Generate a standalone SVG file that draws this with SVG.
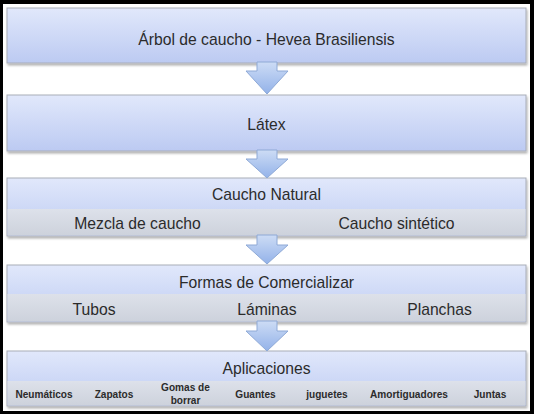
<svg xmlns="http://www.w3.org/2000/svg" width="534" height="414" viewBox="0 0 534 414">
<style>
.box{fill:url(#gBox);stroke:#a9adb8;stroke-width:1}
.low{fill:url(#gLow)}
.t{font-family:"Liberation Sans",Arial,sans-serif;fill:#2b2b2b;text-anchor:middle}
.big{font-size:15.7px}
.sm{font-size:10.1px;font-weight:bold}
.arr{fill:url(#gArr);stroke:#8ea9d6;stroke-width:1}
</style>
<defs>
<linearGradient id="gBox" x1="0" y1="0" x2="0" y2="1">
<stop offset="0" stop-color="#e1e8fb"/>
<stop offset="1" stop-color="#bccaf2"/>
</linearGradient>
<linearGradient id="gLow" x1="0" y1="0" x2="0" y2="1">
<stop offset="0" stop-color="#dde1ea"/>
<stop offset="1" stop-color="#cdd2dc"/>
</linearGradient>
<linearGradient id="gArr" x1="0" y1="0" x2="0" y2="1">
<stop offset="0" stop-color="#cddcf5"/>
<stop offset="1" stop-color="#93b2e9"/>
</linearGradient>
<filter id="sh" x="-5%" y="-20%" width="110%" height="150%">
<feDropShadow dx="1" dy="2" stdDeviation="1.3" flood-color="#000" flood-opacity="0.3"/>
</filter>
</defs>
<rect x="0" y="0" width="534" height="414" fill="#000"/>
<rect x="3" y="4" width="527" height="407" fill="#fff"/>

<g id="n1">
<rect class="box" x="7" y="8" width="519" height="55" filter="url(#sh)"/>
<text class="t big" x="266.5" y="44.5">Árbol de caucho - Hevea Brasiliensis</text>
</g>
<g id="n2">
<rect class="box" x="7" y="95" width="519" height="56" filter="url(#sh)"/>
<text class="t big" x="266.5" y="129.5">Látex</text>
</g>
<g id="n3">
<rect class="box" x="7" y="178" width="519" height="58" filter="url(#sh)"/>
<rect class="low" x="7.5" y="209" width="518" height="26.5"/>
<text class="t big" x="266.5" y="200">Caucho Natural</text>
<text class="t big" x="137.5" y="229">Mezcla de caucho</text>
<text class="t big" x="396.5" y="229">Caucho sintético</text>
</g>
<g id="n4">
<rect class="box" x="7" y="265" width="519" height="57" filter="url(#sh)"/>
<rect class="low" x="7.5" y="294" width="518" height="27.5"/>
<text class="t big" x="266.5" y="288">Formas de Comercializar</text>
<text class="t big" x="94" y="314.5">Tubos</text>
<text class="t big" x="267" y="314.5">Láminas</text>
<text class="t big" x="439.5" y="314.5">Planchas</text>
</g>
<g id="n5">
<rect class="box" x="7" y="351" width="519" height="55" filter="url(#sh)"/>
<rect class="low" x="7.5" y="381" width="518" height="24.5"/>
<text class="t big" x="266.5" y="373.5">Aplicaciones</text>
<text class="t sm" x="44" y="397.5">Neumáticos</text>
<text class="t sm" x="114" y="397.5">Zapatos</text>
<text class="t sm" x="185.5" y="390.5">Gomas de</text>
<text class="t sm" x="185.5" y="404">borrar</text>
<text class="t sm" x="255.5" y="397.5">Guantes</text>
<text class="t sm" x="327" y="397.5">juguetes</text>
<text class="t sm" x="409" y="397.5">Amortiguadores</text>
<text class="t sm" x="490" y="397.5">Juntas</text>
</g>

<g id="connectors">
<path class="arr" d="M257,62 H277 V71 H288 L267,94 L246,71 H257 Z"/>
<path class="arr" d="M257,150 H277 V159 H288 L267,178 L246,159 H257 Z"/>
<path class="arr" d="M257,235 H277 V245 H288 L267,264 L246,245 H257 Z"/>
<path class="arr" d="M257,321 H277 V331 H288 L267,351 L246,331 H257 Z"/>
</g>
</svg>
